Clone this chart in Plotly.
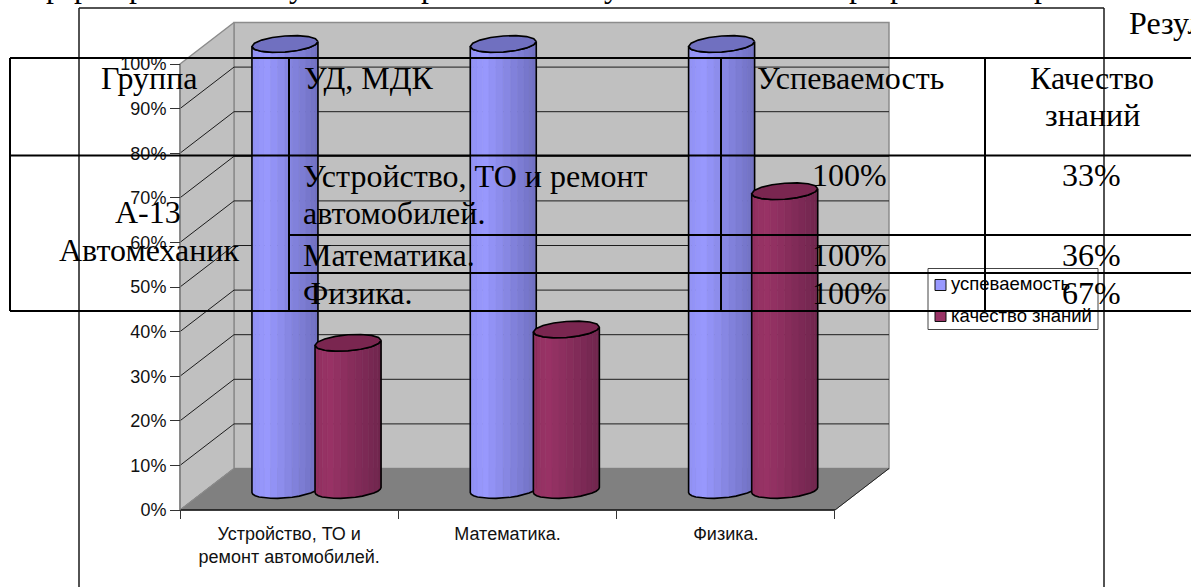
import numpy as np
import plotly.graph_objects as go

# ---- data ----
categories = ["Устройство, ТО и<br>ремонт автомобилей.", "Математика.", "Физика."]
series_names = ["успеваемость", "качество знаний"]
uspevaemost = [100, 100, 100]
kachestvo = [33, 36, 67]
y_ticks = list(range(0, 101, 10))
y_tick_labels = [f"{v}%" for v in y_ticks]

table_header = ["Группа", "УД, МДК", "Успеваемость", "Качество", "знаний"]
table_group = ["А-13", "Автомеханик"]
table_subjects = ["Устройство, ТО и ремонт", "автомобилей.", "Математика.", "Физика."]
table_usp = ["100%", "100%", "100%"]
table_kach = ["33%", "36%", "67%"]

# ---- page / scale geometry ----
W, H = 1191, 587
X0, PX_CAT = 180.0, 218.33     # pixel of category 0, pixels per category
Y0, PX_PCT = 510.0, 4.46       # pixel of 0 %, pixels per percent
DX, DY = 54 / PX_CAT, 41.5 / PX_PCT   # full depth of the 3-D box in data units
BAR_DY = 20 / PX_PCT           # lift of the bars, half way into the box
BAR_OFF = [0.357, 0.646]       # bar centres inside a category
BAR_A = 33 / PX_CAT            # cylinder radius
BAR_B, BAR_S = 8 / PX_PCT, 2.5 / PX_PCT   # ellipse height, tilt

BLUE = ((153, 153, 255), (112, 112, 192))
RED = ((153, 51, 102), (112, 38, 78))
CAPS = ["#7070C0", "#7A2650"]

fig = go.Figure()


def poly(xs, ys, fill, line="rgba(0,0,0,0)", width=1, closed=True):
    xs, ys = list(xs), list(ys)
    if closed:
        xs.append(xs[0]); ys.append(ys[0])
    fig.add_trace(go.Scatter(
        x=xs, y=ys, mode="lines", fill="toself" if fill else None, fillcolor=fill,
        line=dict(color=line, width=width), hoverinfo="skip", showlegend=False))


n_cat = len(categories)
# walls and floor
poly([DX, n_cat + DX, n_cat + DX, DX], [DY, DY, 100 + DY, 100 + DY], "#C0C0C0", "#8C8C8C", 1.5)
poly([0, DX, DX, 0], [0, DY, 100 + DY, 100], "#C0C0C0", "#8C8C8C", 1.5)
poly([0, n_cat, n_cat + DX, DX], [0, 0, DY, DY], "#808080", "#808080", 1)

# gridlines on the back and the side wall
for v in y_ticks[1:-1]:
    poly([0, DX, n_cat + DX], [v, v + DY, v + DY], None, "#1c1c1c", 1, closed=False)
poly([0, DX], [0, DY], None, "#8C8C8C", 1, closed=False)
poly([n_cat, n_cat + DX], [0, DY], None, "#222222", 1, closed=False)
poly([0, n_cat], [0, 0], None, "#111111", 1.5, closed=False)
poly([0, 0], [0, 100], None, "#808080", 1.5, closed=False)


def shade(pal, f):
    light, dark = np.array(pal[0]), np.array(pal[1])
    k = abs(f - 0.22) / 0.78 if f > 0.22 else (0.22 - f) * 0.9
    c = light + (dark - light) * k
    return "rgb(%d,%d,%d)" % tuple(c)


def ell(cx, cy, t):
    return cx + BAR_A * np.cos(t), cy + BAR_B * np.sin(t) + BAR_S * np.cos(t)


def cylinder(cx, value, pal, cap):
    top = value + BAR_DY
    bot = BAR_DY
    ts = np.linspace(np.pi, 2 * np.pi, 15)
    for a, b in zip(ts[:-1], ts[1:]):
        xa, ya = ell(cx, top, a); xb, yb = ell(cx, top, b)
        xa0, ya0 = ell(cx, bot, a); xb0, yb0 = ell(cx, bot, b)
        f = (0.5 * (xa + xb) - (cx - BAR_A)) / (2 * BAR_A)
        col = shade(pal, f)
        poly([xa, xb, xb0, xa0], [ya, yb, yb0, ya0], col, col, 0.6)
    tx, ty = ell(cx, top, ts)
    bx, by = ell(cx, bot, ts)
    poly(list(tx) + list(bx[::-1]), list(ty) + list(by[::-1]), None, "#000000", 1.6)
    tt = np.linspace(0, 2 * np.pi, 17)[:-1]
    ex, ey = ell(cx, top, tt)
    poly(ex, ey, cap, "#000000", 1.6)


for i in range(n_cat):
    cylinder(i + BAR_OFF[0] + DX / 2, uspevaemost[i], BLUE, CAPS[0])
    cylinder(i + BAR_OFF[1] + DX / 2, kachestvo[i], RED, CAPS[1])


# ---- overlay helpers (page pixels) ----
def px(x):
    return x / W


def py(y):
    return 1 - y / H


shapes = []


def seg(x0, y0, x1, y1, color="#000000", width=2):
    shapes.append(dict(type="line", xref="paper", yref="paper", layer="above",
                       x0=px(x0), y0=py(y0), x1=px(x1), y1=py(y1),
                       line=dict(color=color, width=width)))


anns = []
SERIF = "Liberation Serif"
SANS = "Liberation Sans"
TS = 32


def text(s, x, y, anchor="left", family=SERIF, size=TS):
    anns.append(dict(text=s, xref="paper", yref="paper", x=px(x), y=py(y),
                     xanchor=anchor, yanchor="middle", showarrow=False,
                     font=dict(family=family, size=size, color="#000000"),
                     borderpad=0, borderwidth=0))


seg(79, 8, 1104, 8, "#1a1a1a", 1.5)
seg(79, 8, 79, 587, "#1a1a1a", 1.5)
seg(1104, 8, 1104, 587, "#1a1a1a", 1.5)

LG = (928, 268.5, 1098, 329.5)
for a in [(LG[0], LG[1], LG[2], LG[1]), (LG[0], LG[3], LG[2], LG[3]),
          (LG[0], LG[1], LG[0], LG[3]), (LG[2], LG[1], LG[2], LG[3])]:
    seg(*a, "#444444", 1)
for yy, col in zip([285, 316], ["#9999FF", "#993366"]):
    shapes.append(dict(type="rect", xref="paper", yref="paper", layer="above",
                       x0=px(935), x1=px(946), y0=py(yy - 5.5), y1=py(yy + 5.5),
                       fillcolor=col, line=dict(color="#111111", width=1)))
text(series_names[0], 951, 284, family=SANS, size=18.5)
text(series_names[1], 951, 315, family=SANS, size=18.5)

for y in (58, 155.5, 311):
    seg(10, y, W, y)
for y in (235, 273):
    seg(289, y, W, y)
for x in (289, 721, 985):
    seg(x, 58, x, 311)
seg(10, 58, 10, 311)

text(table_header[0], 149, 78, "center")
text(table_header[1], 304, 78)
text(table_header[2], 757, 78)
text(table_header[3], 1092, 78, "center")
text(table_header[4], 1092, 115, "center")
text(table_group[0], 148, 212, "center")
text(table_group[1], 149, 250, "center")
for s, y in zip(table_subjects, (176, 213, 255, 293)):
    text(s, 303, y)
for s, k, y in zip(table_usp, table_kach, (175, 255, 293)):
    text(s, 887, y, "right")
    text(k, 1091, y, "center")

text("Резул", 1129, 23)
for x, ch in [(54, "р"), (82, "р"), (137, "р"), (297, "у"), (429, "р"), (612, "у"),
              (857, "р"), (898, "р"), (1042, "р")]:
    text(ch, x, -14, "center")

fig.update_layout(
    width=W, height=H, autosize=False,
    margin=dict(l=0, r=0, t=0, b=0),
    paper_bgcolor="white", plot_bgcolor="white", showlegend=False,
    font=dict(family=SANS, size=18, color="#111111"),
    shapes=shapes, annotations=anns,
    xaxis=dict(domain=[0, 1], range=[-X0 / PX_CAT, (W - X0) / PX_CAT],
               anchor="free", position=(H - Y0) / H, showgrid=False, zeroline=False,
               showline=False, tickmode="array", tickvals=[i + 0.5 for i in range(n_cat)],
               ticktext=categories, ticks="outside", ticklen=7, tickcolor="rgba(0,0,0,0)",
               tickfont=dict(family=SANS, size=18, color="#111111"),
               minor=dict(tickmode="array", tickvals=list(range(n_cat + 1)), ticks="outside",
                          ticklen=8, tickcolor="#333333", tickwidth=1, showgrid=False)),
    yaxis=dict(domain=[0, 1], range=[(Y0 - H) / PX_PCT, Y0 / PX_PCT],
               anchor="free", position=X0 / W, showgrid=False, zeroline=False,
               showline=False, tickmode="array", tickvals=y_ticks, ticktext=y_tick_labels,
               ticks="outside", ticklen=10, tickcolor="#333333", tickwidth=1,
               tickfont=dict(family=SANS, size=18, color="#111111")),
)
fig.write_html("out.html", config=dict(displayModeBar=False),
               post_script="document.body.style.margin='0';document.body.style.overflow='hidden';")
